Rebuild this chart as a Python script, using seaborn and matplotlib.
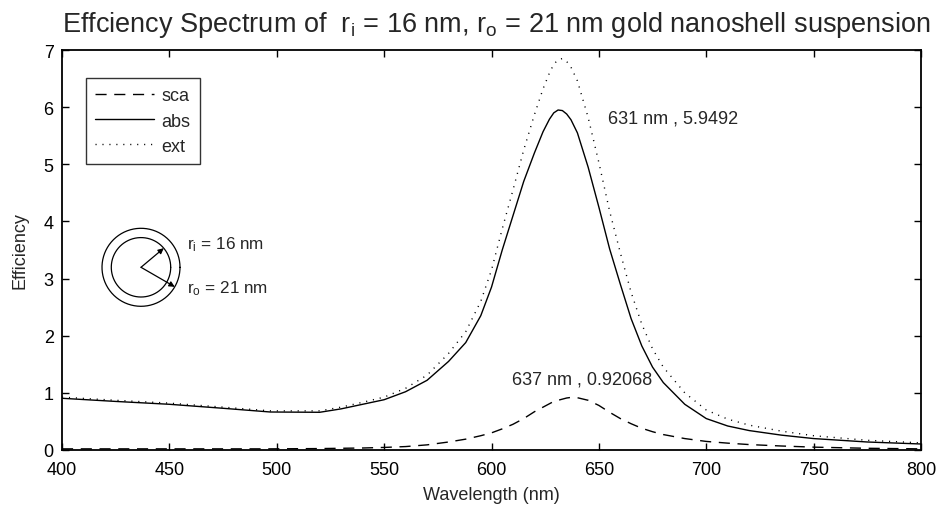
import numpy as np
import pandas as pd
import matplotlib
matplotlib.use("Agg")
import matplotlib.pyplot as plt
import seaborn as sns

# ---------------- data ----------------
wavelength = [400, 425, 450, 475, 497, 520, 530, 540, 550, 560, 570, 580, 588,
              595, 600, 605, 610, 615, 620, 624, 627, 629, 631, 633, 635, 637,
              640, 645, 650, 655, 660, 665, 670, 675, 680, 690, 700, 710, 720,
              735, 750, 775, 800]
abs_eff = [0.905, 0.85, 0.80, 0.73, 0.665, 0.66, 0.72, 0.80, 0.88, 1.02, 1.22,
           1.55, 1.88, 2.35, 2.85, 3.50, 4.10, 4.70, 5.20, 5.57, 5.79, 5.90,
           5.95, 5.94, 5.88, 5.78, 5.55, 4.95, 4.25, 3.52, 2.90, 2.30, 1.82,
           1.45, 1.18, 0.80, 0.55, 0.42, 0.34, 0.26, 0.20, 0.14, 0.105]
sca_eff = [0.02, 0.02, 0.02, 0.02, 0.02, 0.025, 0.03, 0.035, 0.045, 0.06, 0.09,
           0.14, 0.19, 0.25, 0.30, 0.37, 0.45, 0.55, 0.67, 0.75, 0.81, 0.85,
           0.87, 0.89, 0.91, 0.92, 0.915, 0.87, 0.78, 0.66, 0.55, 0.46, 0.38,
           0.32, 0.27, 0.20, 0.15, 0.12, 0.095, 0.07, 0.05, 0.03, 0.02]
ext_eff = [0.925, 0.87, 0.82, 0.75, 0.685, 0.685, 0.75, 0.835, 0.925, 1.08,
           1.31, 1.69, 2.07, 2.60, 3.15, 3.87, 4.55, 5.25, 5.87, 6.32, 6.60,
           6.75, 6.83, 6.85, 6.80, 6.70, 6.46, 5.82, 5.03, 4.18, 3.45, 2.76,
           2.20, 1.77, 1.45, 1.00, 0.70, 0.54, 0.435, 0.33, 0.25, 0.17, 0.125]
series_names = ["sca", "abs", "ext"]
abs_peak_nm, abs_peak_val = 631, 5.9492
sca_peak_nm, sca_peak_val = 637, 0.92068
r_inner, r_outer = 16, 21
x_ticks = [400, 450, 500, 550, 600, 650, 700, 750, 800]
y_ticks = [0, 1, 2, 3, 4, 5, 6, 7]

df = pd.DataFrame({"wavelength": wavelength, "sca": sca_eff,
                   "abs": abs_eff, "ext": ext_eff})

# ---------------- style ----------------
sns.set_style("ticks")
plt.rcParams["font.family"] = ["Liberation Sans", "DejaVu Sans"]
plt.rcParams["mathtext.fontset"] = "custom"
plt.rcParams["mathtext.rm"] = "Liberation Sans"
plt.rcParams["mathtext.it"] = "Liberation Sans"
plt.rcParams["mathtext.default"] = "regular"

FS = 13
fig = plt.figure(figsize=(9.37, 5.06), dpi=100)
ax = fig.add_axes([62 / 937, 1 - 451 / 506, (921 - 62) / 937, (451 - 51) / 506])

styles = {"sca": (0, (8, 5.5)), "abs": "-", "ext": (0, (0.8, 4.2))}
for name in series_names:
    sns.lineplot(data=df, x="wavelength", y=name, ax=ax, color="black",
                 linewidth=1.0, linestyle=styles[name], label=name,
                 estimator=None, sort=False)

ax.set_xlim(400, 800)
ax.set_ylim(0, 7)
ax.set_xticks(x_ticks)
ax.set_yticks(y_ticks)
ax.tick_params(direction="in", length=5, width=1, top=True, right=True,
               labelsize=FS, pad=6, colors="black")
ax.tick_params(axis="x", pad=8)
for sp in ax.spines.values():
    sp.set_visible(True)
    sp.set_linewidth(1.3)
    sp.set_color("black")

ax.set_xlabel("Wavelength (nm)", fontsize=FS, labelpad=6)
ax.set_ylabel("Efficiency", fontsize=FS, labelpad=11)
ax.set_title(r"Effciency Spectrum of  r$_{i}$ = %d nm, r$_{o}$ = %d nm gold nanoshell suspension"
             % (r_inner, r_outer), fontsize=19.5, pad=14, x=0.506)

leg = ax.legend(loc="upper left", bbox_to_anchor=(0.0276, 0.929),
                borderaxespad=0, fontsize=FS, handlelength=3.3,
                handletextpad=0.4, labelspacing=0.45, borderpad=0.5,
                fancybox=False, frameon=True)
leg.get_frame().set_edgecolor("black")
leg.get_frame().set_linewidth(1.0)

ax.text(654.1, 5.81, f"{abs_peak_nm} nm , {abs_peak_val}", fontsize=FS,
        va="center", ha="left")
ax.text(609.4, 1.234, f"{sca_peak_nm} nm , {sca_peak_val}", fontsize=FS,
        va="center", ha="left")

# ---------------- nanoshell inset ----------------
scale = 39.0 / r_outer  # px per nm in the sketch
half = 50 / scale
cx, cy = 141, 268.3
iax = fig.add_axes([(cx - 50) / 937, 1 - (cy + 50) / 506, 100 / 937, 100 / 506])
iax.set_xlim(-half, half)
iax.set_ylim(-half, half)
iax.set_aspect("equal")
iax.axis("off")
theta = np.linspace(0, 2 * np.pi, 300)
for r in (r_inner, r_outer):
    sns.lineplot(x=r * np.cos(theta), y=r * np.sin(theta), ax=iax, color="black",
                 linewidth=0.9, sort=False, estimator=None)
for r, ang in ((r_inner, 40), (r_outer, -30)):
    a = np.deg2rad(ang)
    iax.annotate("", xy=(r * np.cos(a), r * np.sin(a)), xytext=(0, 0),
                 arrowprops=dict(arrowstyle="-|>", color="black", lw=0.9,
                                 mutation_scale=8, shrinkA=0, shrinkB=0))
iax.text(24.9, 12.9, r"r$_{i}$ = %d nm" % r_inner, fontsize=12.3, va="center",
         ha="left", clip_on=False)
iax.text(24.9, -10.8, r"r$_{o}$ = %d nm" % r_outer, fontsize=12.3, va="center",
         ha="left", clip_on=False)

fig.savefig("out.png", dpi=100)
